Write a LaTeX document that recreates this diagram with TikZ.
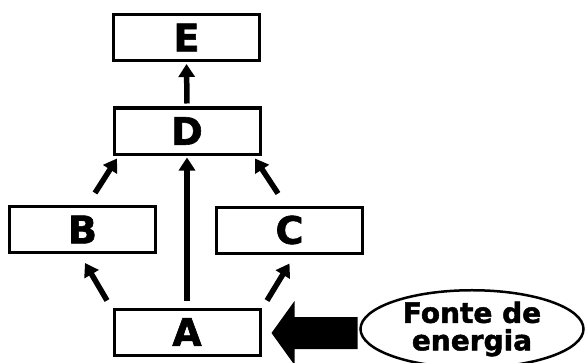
\documentclass[tikz,border=0pt]{standalone}
\usepackage{fontspec}
\setmainfont{DejaVu Sans}
\newfontfamily\heavyfont[FakeBold=1.6]{DejaVu Sans Bold}
\usetikzlibrary{arrows.meta,shapes.geometric,calc}
\begin{document}
\begin{tikzpicture}[x=1pt,y=1pt,
  box/.style={draw,line width=3pt,minimum width=146pt,minimum height=46pt,
    inner sep=0pt,font=\fontsize{38}{38}\heavyfont},
  arr/.style={line width=5.5pt,-{Triangle[length=13pt,width=16pt]}},
  src/.style={ellipse,draw,line width=2.5pt,minimum width=223pt,minimum height=64pt,
    inner sep=0pt,align=center,font=\fontsize{28}{27.5}\heavyfont}]
\useasboundingbox (0,0) rectangle (585,362);
% boxes of the diagram
\node[box] (E) at (186.5,324.5) {E};
\node[box] (D) at (187,231) {D};
\node[box] (B) at (82.5,132.5) {B};
\node[box] (C) at (289.5,132) {C};
\node[box] (A) at (187,30) {A};
\node[src] (F) at (472,33) {Fonte de\\energia};
% thin arrows between boxes
\draw[arr] ([yshift=3pt]D.north) -- ([yshift=-2pt]E.south);
\draw[arr] ([yshift=7pt]A.north) -- ([yshift=-2pt]D.south);
\draw[arr] ($(B.north)+(12.5,12)$) -- ($(D.south)+(-70,-3)$);
\draw[arr] ($(C.north)+(-11.5,12)$) -- ($(D.south)+(68,-3)$);
\draw[arr] ($(A.north)+(-80,7)$) -- ($(B.south)+(2.5,-9)$);
\draw[arr] ($(A.north)+(80,7)$) -- ($(C.south)+(0,-9)$);
% thick arrow from the energy source into A
\coordinate (tip) at ($(A.east)+(10,-1)$);
\fill (tip) -- ++(23,32) -- ++(0,-16) -- ++(63,0) -- ++(0,-32)
  -- ++(-63,0) -- ++(0,-16) -- cycle;
\end{tikzpicture}
\end{document}
